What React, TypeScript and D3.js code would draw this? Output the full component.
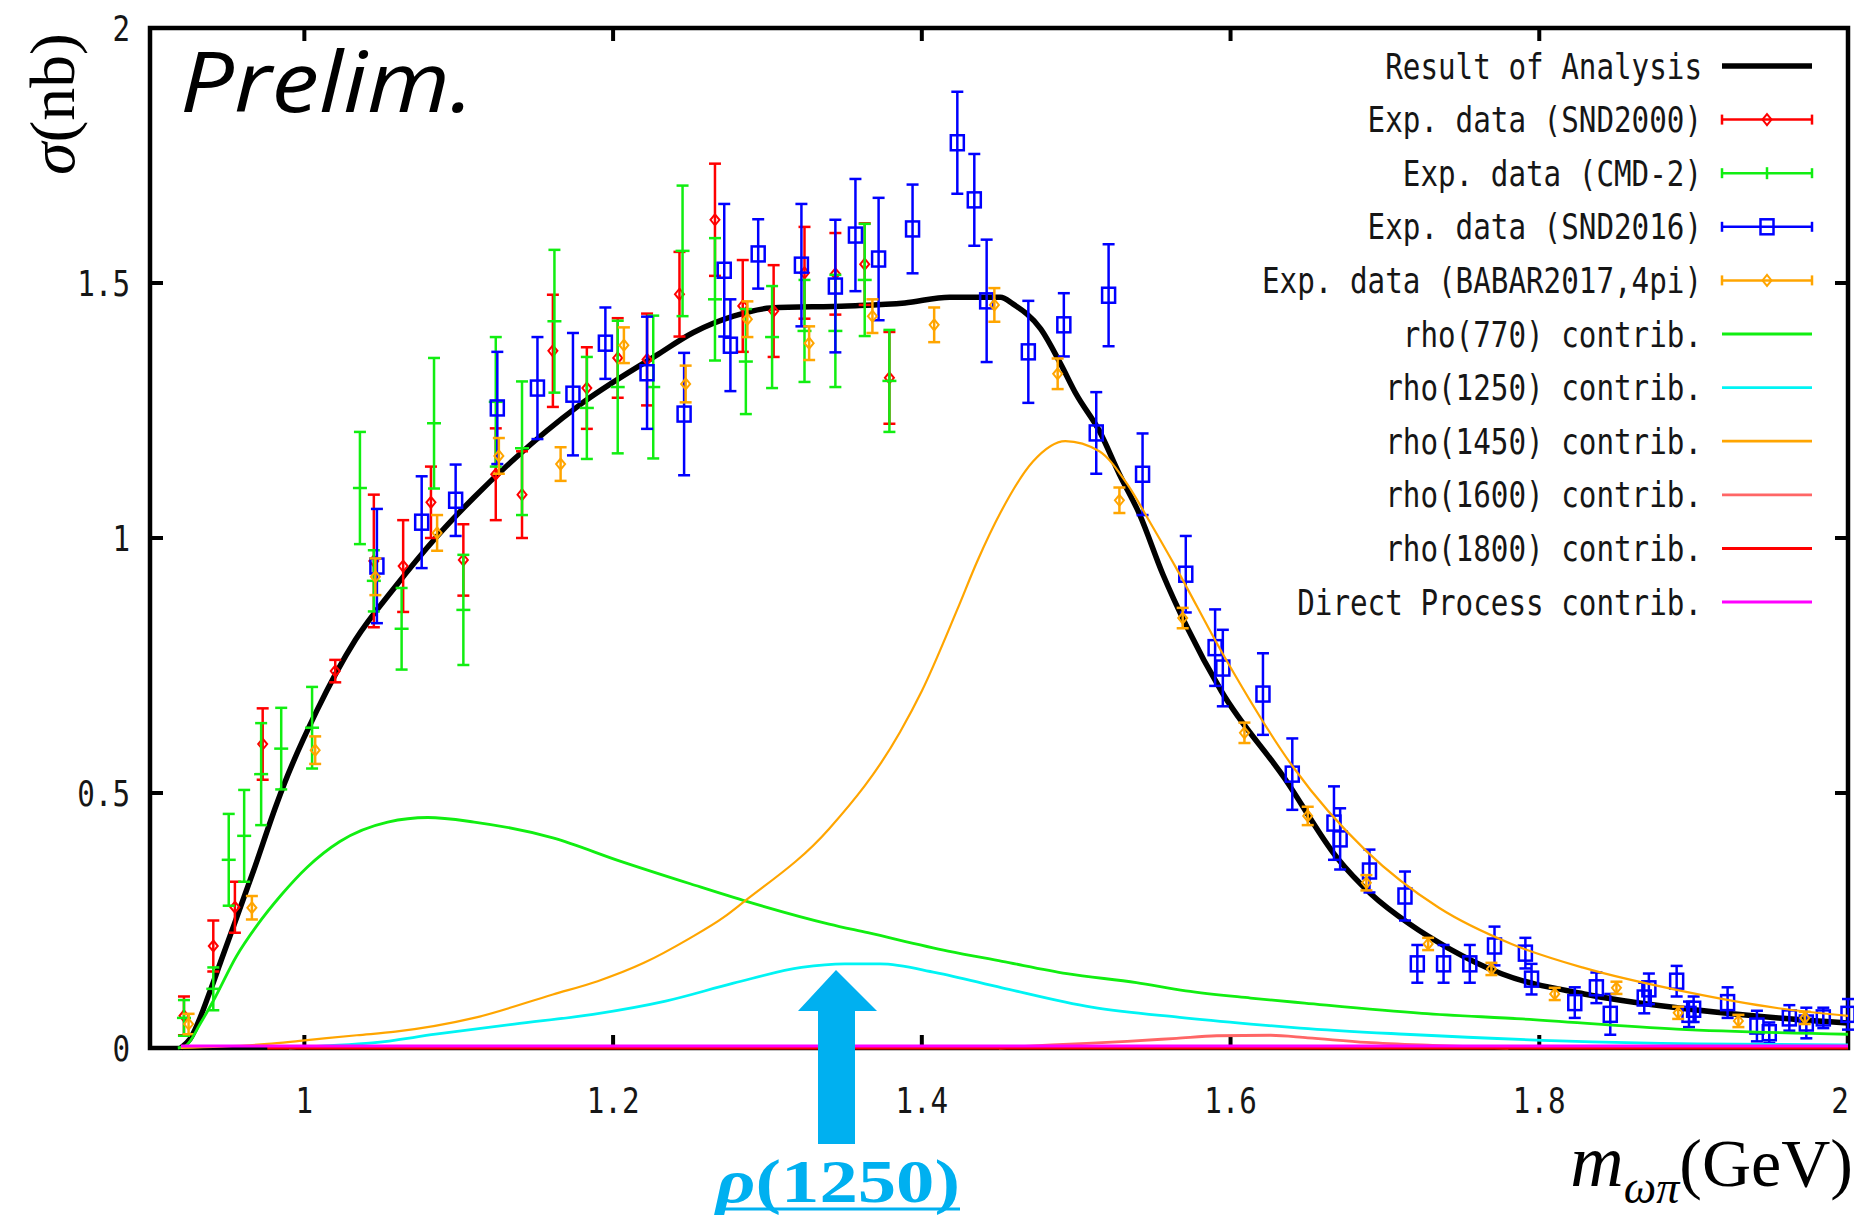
import React, { useEffect, useRef } from "react";
import * as d3 from "d3";

// axis ticks
const xTicks = [1, 1.2, 1.4, 1.6, 1.8, 2];
const yTicks = [0, 0.5, 1, 1.5, 2];

// fit result (black)
const resultCurve = [
  [0.92, 0], [0.926, 0.018], [0.939, 0.112], [0.946, 0.171], [0.967, 0.347],
  [0.982, 0.478], [0.987, 0.518], [1.008, 0.661], [1.033, 0.8], [1.059, 0.905],
  [1.085, 1.0], [1.11, 1.08], [1.136, 1.155], [1.178, 1.26], [1.228, 1.358],
  [1.252, 1.403], [1.278, 1.435], [1.302, 1.451], [1.352, 1.455], [1.389, 1.461],
  [1.418, 1.472], [1.451, 1.472], [1.459, 1.459], [1.477, 1.41], [1.49, 1.341],
  [1.5, 1.282], [1.515, 1.21], [1.528, 1.125], [1.541, 1.047], [1.556, 0.93],
  [1.572, 0.824], [1.594, 0.7], [1.635, 0.529], [1.669, 0.373], [1.691, 0.302],
  [1.716, 0.243], [1.741, 0.196], [1.776, 0.145], [1.829, 0.106], [1.892, 0.078],
  [1.955, 0.059], [2.0, 0.049],
];

// experimental points: [mass, sigma, error]
const snd2000 = [
  [0.922, 0.063, 0.038], [0.941, 0.2, 0.05], [0.955, 0.276, 0.05], [0.973, 0.596, 0.07],
  [1.02, 0.739, 0.022], [1.045, 0.955, 0.13], [1.064, 0.945, 0.09], [1.082, 1.07, 0.07],
  [1.103, 0.957, 0.07], [1.124, 1.125, 0.09], [1.141, 1.085, 0.085], [1.161, 1.367, 0.11],
  [1.183, 1.294, 0.08], [1.203, 1.353, 0.078], [1.222, 1.35, 0.09], [1.243, 1.478, 0.083],
  [1.266, 1.624, 0.11], [1.284, 1.455, 0.09], [1.304, 1.445, 0.09], [1.324, 1.52, 0.09],
  [1.344, 1.518, 0.08], [1.363, 1.537, 0.08], [1.379, 1.314, 0.09],
];

const cmd2 = [
  [0.922, 0.059, 0.035], [0.941, 0.116, 0.042], [0.951, 0.369, 0.09], [0.961, 0.416, 0.09],
  [0.972, 0.537, 0.1], [0.985, 0.587, 0.08], [1.005, 0.628, 0.08], [1.036, 1.098, 0.11],
  [1.045, 0.916, 0.06], [1.063, 0.822, 0.08], [1.084, 1.225, 0.128], [1.103, 0.859, 0.108],
  [1.124, 1.267, 0.127], [1.141, 1.176, 0.131], [1.162, 1.425, 0.14], [1.183, 1.255, 0.1],
  [1.203, 1.296, 0.13], [1.226, 1.296, 0.14], [1.245, 1.563, 0.128], [1.266, 1.468, 0.12],
  [1.286, 1.346, 0.103], [1.303, 1.394, 0.1], [1.324, 1.406, 0.1], [1.344, 1.406, 0.11],
  [1.363, 1.506, 0.11], [1.379, 1.308, 0.1],
];

const snd2016 = [
  [1.047, 0.945, 0.112], [1.076, 1.031, 0.09], [1.098, 1.074, 0.07], [1.125, 1.255, 0.11],
  [1.151, 1.294, 0.1], [1.174, 1.282, 0.12], [1.195, 1.382, 0.07], [1.222, 1.324, 0.11],
  [1.246, 1.243, 0.12], [1.272, 1.525, 0.13], [1.276, 1.378, 0.09], [1.294, 1.557, 0.068],
  [1.322, 1.535, 0.12], [1.344, 1.494, 0.13], [1.357, 1.594, 0.11], [1.372, 1.547, 0.12],
  [1.394, 1.606, 0.087], [1.423, 1.775, 0.1], [1.434, 1.663, 0.09], [1.442, 1.465, 0.12],
  [1.469, 1.365, 0.1], [1.492, 1.418, 0.062], [1.513, 1.206, 0.08], [1.521, 1.476, 0.1],
  [1.543, 1.125, 0.08], [1.571, 0.929, 0.075], [1.59, 0.785, 0.075], [1.595, 0.745, 0.075],
  [1.621, 0.694, 0.08], [1.64, 0.537, 0.07], [1.667, 0.441, 0.072], [1.671, 0.41, 0.06],
  [1.69, 0.347, 0.042], [1.713, 0.298, 0.048], [1.721, 0.165, 0.037], [1.738, 0.165, 0.037],
  [1.755, 0.165, 0.037], [1.771, 0.2, 0.038], [1.791, 0.186, 0.03], [1.795, 0.135, 0.03],
  [1.823, 0.089, 0.03], [1.837, 0.118, 0.03], [1.846, 0.066, 0.04], [1.868, 0.098, 0.03],
  [1.871, 0.116, 0.03], [1.889, 0.131, 0.03], [1.897, 0.066, 0.025], [1.9, 0.076, 0.025],
  [1.922, 0.089, 0.03], [1.941, 0.043, 0.03], [1.949, 0.03, 0.02], [1.962, 0.059, 0.025],
  [1.973, 0.049, 0.03], [1.984, 0.059, 0.02], [2.0, 0.066, 0.03],
];

const babar = [
  [0.925, 0.047, 0.02], [0.966, 0.275, 0.023], [1.007, 0.584, 0.027], [1.046, 0.924, 0.036],
  [1.086, 1.01, 0.035], [1.126, 1.161, 0.035], [1.166, 1.145, 0.033], [1.207, 1.378, 0.035],
  [1.247, 1.302, 0.036], [1.287, 1.429, 0.035], [1.327, 1.382, 0.033], [1.368, 1.435, 0.033],
  [1.408, 1.418, 0.034], [1.447, 1.457, 0.033], [1.488, 1.322, 0.03], [1.528, 1.074, 0.025],
  [1.569, 0.843, 0.02], [1.609, 0.618, 0.02], [1.65, 0.455, 0.018], [1.688, 0.324, 0.015],
  [1.728, 0.204, 0.012], [1.769, 0.155, 0.012], [1.81, 0.106, 0.012], [1.85, 0.118, 0.012],
  [1.89, 0.069, 0.012], [1.929, 0.053, 0.012], [1.972, 0.059, 0.012],
];

// resonance contributions
const rho770 = [
  [0.918, 0], [0.923, 0.004], [0.933, 0.05], [0.942, 0.098], [0.956, 0.18], [0.969, 0.239],
  [0.985, 0.3], [1.002, 0.355], [1.023, 0.405], [1.054, 0.443], [1.08, 0.452], [1.11, 0.443],
  [1.161, 0.412], [1.204, 0.367], [1.25, 0.322], [1.287, 0.287], [1.34, 0.243], [1.365, 0.226],
  [1.417, 0.19], [1.452, 0.17], [1.494, 0.146], [1.539, 0.128], [1.571, 0.112], [1.613, 0.098],
  [1.648, 0.088], [1.724, 0.068], [1.789, 0.057], [1.889, 0.037], [2.0, 0.027],
];

const rho1250 = [
  [0.99, 0], [1.013, 0.004], [1.044, 0.01], [1.085, 0.027], [1.136, 0.047], [1.187, 0.066],
  [1.234, 0.092], [1.278, 0.127], [1.322, 0.158], [1.35, 0.165], [1.373, 0.165], [1.409, 0.148],
  [1.452, 0.118], [1.51, 0.08], [1.567, 0.06], [1.613, 0.047], [1.645, 0.039], [1.713, 0.027],
  [1.813, 0.014], [1.902, 0.008], [2.0, 0.006],
];

const rho1450 = [
  [0.92, 0], [0.976, 0.008], [0.997, 0.014], [1.034, 0.025], [1.059, 0.032], [1.11, 0.059],
  [1.161, 0.105], [1.19, 0.131], [1.22, 0.167], [1.249, 0.214], [1.272, 0.257], [1.284, 0.285],
  [1.34, 0.43], [1.386, 0.62], [1.4, 0.7], [1.423, 0.86], [1.436, 0.955], [1.451, 1.05],
  [1.472, 1.15], [1.493, 1.19], [1.515, 1.17], [1.533, 1.106], [1.548, 1.03], [1.565, 0.94],
  [1.594, 0.778], [1.641, 0.549], [1.688, 0.386], [1.735, 0.275], [1.782, 0.204],
  [1.829, 0.157], [1.892, 0.112], [1.955, 0.078], [2.0, 0.063],
];

const rho1600 = [
  [1.45, 0], [1.484, 0.006], [1.533, 0.013], [1.565, 0.019], [1.591, 0.024], [1.626, 0.025],
  [1.65, 0.02], [1.688, 0.011], [1.731, 0.005], [1.78, 0],
];

const rho1800 = [[0.976, 0], [2.0, 0]];
const directProc = [[0.92, 0.004], [2.0, 0.004]];

const legendLabels = [
  "Result of Analysis",
  "Exp. data (SND2000)",
  "Exp. data (CMD-2)",
  "Exp. data (SND2016)",
  "Exp. data (BABAR2017,4pi)",
  "rho(770) contrib.",
  "rho(1250) contrib.",
  "rho(1450) contrib.",
  "rho(1600) contrib.",
  "rho(1800) contrib.",
  "Direct Process contrib.",
];

const colors = {
  result: "#000000",
  snd2000: "#ff0000",
  cmd2: "#11ee11",
  snd2016: "#0000ff",
  babar: "#ffa500",
  rho770: "#11ee11",
  rho1250: "#00f4f4",
  rho1450: "#ffa500",
  rho1600: "#ff6666",
  rho1800: "#ff0000",
  direct: "#ff00ff",
};

const MONO = "'DejaVu Sans Mono', monospace";
const CHAR_W = 17.6;

function App() {
  const svgRef = useRef<SVGSVGElement>(null);

  useEffect(() => {
    const svg = d3.select(svgRef.current);
    svg.selectAll("*").remove();

    const left = 150, right = 1848, top = 28, bottom = 1048;
    const x = d3.scaleLinear().domain([0.9, 2.0]).range([left, right]);
    const y = d3.scaleLinear().domain([0, 2]).range([bottom, top]);

    const monoText = (g, px, py, str, anchor) =>
      g.append("text")
        .attr("x", px)
        .attr("y", py)
        .attr("font-family", MONO)
        .attr("font-size", 36)
        .attr("fill", "#161616")
        .attr("text-anchor", anchor)
        .attr("dominant-baseline", "central")
        .attr("textLength", str.length * CHAR_W)
        .attr("lengthAdjust", "spacingAndGlyphs")
        .text(str);

    // frame
    svg.append("rect")
      .attr("x", left).attr("y", top)
      .attr("width", right - left).attr("height", bottom - top)
      .attr("fill", "none").attr("stroke", "#000").attr("stroke-width", 4.5);

    const ticks = svg.append("g").attr("stroke", "#000").attr("stroke-width", 4);
    xTicks.forEach((t) => {
      ticks.append("line").attr("x1", x(t)).attr("x2", x(t)).attr("y1", bottom).attr("y2", bottom - 13);
      ticks.append("line").attr("x1", x(t)).attr("x2", x(t)).attr("y1", top).attr("y2", top + 13);
      // the last label sits a little inside the page edge
      monoText(svg, Math.min(x(t), 1840), 1100, String(t), "middle");
    });
    yTicks.forEach((t) => {
      ticks.append("line").attr("x1", left).attr("x2", left + 13).attr("y1", y(t)).attr("y2", y(t));
      ticks.append("line").attr("x1", right).attr("x2", right - 13).attr("y1", y(t)).attr("y2", y(t));
      monoText(svg, 130, y(t), String(t), "end");
    });

    svg.append("defs").append("clipPath").attr("id", "plot-clip")
      .append("rect").attr("x", left).attr("y", top - 6)
      .attr("width", right - left + 6).attr("height", bottom - top + 10);

    const plot = svg.append("g").attr("clip-path", "url(#plot-clip)");
    const line = d3.line().x((d) => x(d[0])).y((d) => y(d[1])).curve(d3.curveMonotoneX);

    const drawCurve = (data, color, width) =>
      plot.append("path").datum(data).attr("d", line)
        .attr("fill", "none").attr("stroke", color)
        .attr("stroke-width", width).attr("stroke-linejoin", "round");

    // markers
    const marker = (g, kind, cx, cy, color) => {
      if (kind === "square") {
        g.append("rect").attr("x", cx - 6.5).attr("y", cy - 7.5).attr("width", 13).attr("height", 15)
          .attr("fill", "none").attr("stroke", color).attr("stroke-width", 2.5);
      } else if (kind === "diamond") {
        g.append("path").attr("d", `M${cx},${cy - 5.5}L${cx + 4.5},${cy}L${cx},${cy + 5.5}L${cx - 4.5},${cy}Z`)
          .attr("fill", "none").attr("stroke", color).attr("stroke-width", 2);
      } else if (kind === "plus") {
        g.append("line").attr("x1", cx - 7).attr("x2", cx + 7).attr("y1", cy).attr("y2", cy)
          .attr("stroke", color).attr("stroke-width", 2.5);
      }
    };

    const drawPoints = (data, color, kind) => {
      const g = plot.append("g");
      data.forEach(([m, s, e]) => {
        const cx = x(m), y1 = y(s + e), y0 = y(s - e);
        g.append("line").attr("x1", cx).attr("x2", cx).attr("y1", y1).attr("y2", y0)
          .attr("stroke", color).attr("stroke-width", 2.5);
        [y1, y0].forEach((cy) =>
          g.append("line").attr("x1", cx - 6).attr("x2", cx + 6).attr("y1", cy).attr("y2", cy)
            .attr("stroke", color).attr("stroke-width", 2.5));
        marker(g, kind, cx, y(s), color);
      });
    };

    drawCurve(resultCurve, colors.result, 5.5);
    drawPoints(snd2000, colors.snd2000, "diamond");
    drawPoints(cmd2, colors.cmd2, "plus");
    drawPoints(snd2016, colors.snd2016, "square");
    drawPoints(babar, colors.babar, "diamond");
    drawCurve(rho770, colors.rho770, 2.8);
    drawCurve(rho1250, colors.rho1250, 2.8);
    drawCurve(rho1450, colors.rho1450, 2.2);
    drawCurve(rho1600, colors.rho1600, 2.8);
    drawCurve(rho1800, colors.rho1800, 3);
    drawCurve(directProc, colors.direct, 3);

    // legend
    const legendKinds = [
      ["line", colors.result, 5.5],
      ["diamond", colors.snd2000, 2.5],
      ["plus", colors.cmd2, 2.5],
      ["square", colors.snd2016, 2.5],
      ["diamond", colors.babar, 2.5],
      ["line", colors.rho770, 2.8],
      ["line", colors.rho1250, 2.8],
      ["line", colors.rho1450, 2.8],
      ["line", colors.rho1600, 2.8],
      ["line", colors.rho1800, 3],
      ["line", colors.direct, 3],
    ];
    const legend = svg.append("g");
    legendLabels.forEach((label, i) => {
      const ly = 66 + i * 53.6;
      monoText(legend, 1702, ly, label, "end");
      const [kind, color, w] = legendKinds[i];
      legend.append("line").attr("x1", 1722).attr("x2", 1812).attr("y1", ly).attr("y2", ly)
        .attr("stroke", color).attr("stroke-width", w);
      if (kind !== "line") {
        [1722, 1812].forEach((ex) =>
          legend.append("line").attr("x1", ex).attr("x2", ex).attr("y1", ly - 5).attr("y2", ly + 5)
            .attr("stroke", color).attr("stroke-width", 2.5));
        if (kind === "plus") {
          legend.append("line").attr("x1", 1767).attr("x2", 1767).attr("y1", ly - 6).attr("y2", ly + 6)
            .attr("stroke", color).attr("stroke-width", 2.5);
        } else {
          marker(legend, kind, 1767, ly, color);
        }
      }
    });

    // "Prelim." stamp
    svg.append("text")
      .attr("x", 180).attr("y", 112)
      .attr("font-family", "'Open Sans', sans-serif")
      .attr("font-style", "italic")
      .attr("font-size", 84)
      .attr("textLength", 294)
      .attr("lengthAdjust", "spacingAndGlyphs")
      .text("Prelim.");

    // axis titles
    const yl = svg.append("text")
      .attr("transform", "translate(52,104) rotate(-90)")
      .attr("text-anchor", "middle")
      .attr("dominant-baseline", "central")
      .attr("font-family", "'Liberation Serif', serif")
      .attr("font-size", 64)
      .attr("textLength", 142)
      .attr("lengthAdjust", "spacingAndGlyphs");
    yl.append("tspan").attr("font-style", "italic").text("σ");
    yl.append("tspan").text("(nb)");

    const xl = svg.append("text")
      .attr("x", 1853).attr("y", 1186)
      .attr("text-anchor", "end")
      .attr("font-family", "'Liberation Serif', serif")
      .attr("font-size", 68);
    xl.append("tspan").attr("font-style", "italic").attr("font-size", 74).text("m");
    xl.append("tspan").attr("font-style", "italic").attr("font-size", 46).attr("dy", 17).text("ωπ");
    xl.append("tspan").attr("dy", -17).text("(GeV)");

    // rho(1250) annotation arrow
    const ac = "#00b0f0";
    svg.append("path")
      .attr("d", "M836,970 L877,1011 L855,1011 L855,1144 L818,1144 L818,1011 L798,1011 Z")
      .attr("fill", ac);
    const rl = svg.append("text")
      .attr("x", 838).attr("y", 1202)
      .attr("text-anchor", "middle")
      .attr("font-family", "'Liberation Serif', serif")
      .attr("font-weight", "bold")
      .attr("font-size", 62)
      .attr("fill", ac)
      .attr("textLength", 244)
      .attr("lengthAdjust", "spacingAndGlyphs");
    rl.append("tspan").attr("font-style", "italic").text("ρ");
    rl.append("tspan").text("(1250)");
    svg.append("line").attr("x1", 716).attr("x2", 960).attr("y1", 1209).attr("y2", 1209)
      .attr("stroke", ac).attr("stroke-width", 3);
  }, []);

  return (
    <div style={{ position: "absolute", left: 0, top: 0 }}>
      <svg ref={svgRef} width={1859} height={1216} style={{ display: "block", background: "#fff" }} />
    </div>
  );
}

export default App;
